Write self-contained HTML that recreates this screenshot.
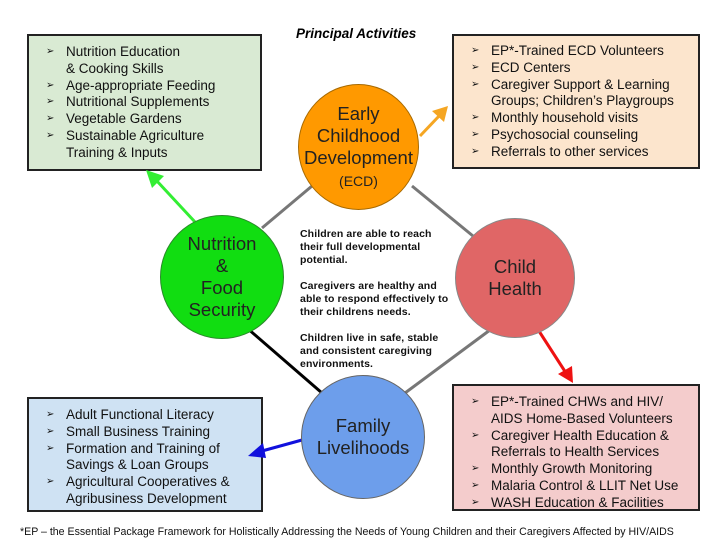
<!DOCTYPE html>
<html><head><style>
body{margin:0;width:720px;height:540px;background:#fff;position:relative;font-family:"Liberation Sans",sans-serif;overflow:hidden}
.box{position:absolute;border:2px solid #222;box-sizing:border-box;font-size:13.5px;line-height:16.8px;color:#111}
.box ul{margin:0;padding:0;list-style:none}
.box li{position:relative;padding-left:37px}
.box li.b:before{content:"➢";position:absolute;left:17px;font-size:10px;top:0}
.c{position:absolute;border-radius:50%;border:1.5px solid #666;box-sizing:border-box;display:flex;align-items:center;justify-content:center;text-align:center;font-size:18.5px;line-height:22px;color:#222}
</style></head><body>
<div style="position:absolute;left:296px;top:26px;font-size:13.5px;font-weight:bold;font-style:italic">Principal Activities</div>
<div class="box" style="left:27px;top:34px;width:235px;height:137px;background:#d9ead3;padding-top:8px">
<ul><li class="b">Nutrition Education</li><li>&amp; Cooking Skills</li><li class="b">Age-appropriate Feeding</li><li class="b">Nutritional Supplements</li><li class="b">Vegetable Gardens</li><li class="b">Sustainable Agriculture</li><li>Training &amp; Inputs</li></ul></div>
<div class="box" style="left:452px;top:34px;width:248px;height:135px;background:#fce5cd;padding-top:7px">
<ul><li class="b">EP*-Trained ECD Volunteers</li><li class="b">ECD Centers</li><li class="b">Caregiver Support &amp; Learning</li><li>Groups; Children’s Playgroups</li><li class="b">Monthly household visits</li><li class="b">Psychosocial counseling</li><li class="b">Referrals to other services</li></ul></div>
<div class="box" style="left:27px;top:397px;width:236px;height:115px;background:#cfe2f3;padding-top:8px">
<ul><li class="b">Adult Functional Literacy</li><li class="b">Small Business Training</li><li class="b">Formation and Training of</li><li>Savings &amp; Loan Groups</li><li class="b">Agricultural Cooperatives &amp;</li><li>Agribusiness Development</li></ul></div>
<div class="box" style="left:452px;top:384px;width:248px;height:127px;background:#f4cccc;padding-top:8px">
<ul><li class="b">EP*-Trained CHWs and HIV/</li><li>AIDS Home-Based Volunteers</li><li class="b">Caregiver Health Education &amp;</li><li>Referrals to Health Services</li><li class="b">Monthly Growth Monitoring</li><li class="b">Malaria Control &amp; LLIT Net Use</li><li class="b">WASH Education &amp; Facilities</li></ul></div>
<svg width="720" height="540" style="position:absolute;left:0;top:0">
<line x1="262" y1="228" x2="312" y2="186" stroke="#777" stroke-width="3"/>
<line x1="412" y1="186" x2="473" y2="236" stroke="#777" stroke-width="3"/>
<line x1="247" y1="328" x2="322" y2="393" stroke="#000" stroke-width="3"/>
<line x1="490" y1="330" x2="405" y2="393" stroke="#777" stroke-width="3"/>
<line x1="195" y1="222" x2="156" y2="180" stroke="#33ee33" stroke-width="3"/>
<polygon points="146,170 164,176 152,188" fill="#33ee33"/>
<line x1="420" y1="136" x2="440" y2="115" stroke="#f5a623" stroke-width="3"/>
<polygon points="448,106 444,122 432,111" fill="#f5a623"/>
<line x1="537" y1="328" x2="566" y2="373" stroke="#ee1111" stroke-width="3"/>
<polygon points="573,383 558,374 572,366" fill="#ee1111"/>
<line x1="302" y1="440" x2="262" y2="451" stroke="#1111dd" stroke-width="3"/>
<polygon points="248,456 263,443 266,458" fill="#1111dd"/>
</svg>
<div class="c" style="left:298px;top:84px;width:121px;height:126px;background:#ff9900;border-color:#a86a00"><div>Early<br>Childhood<br>Development<br><span style="font-size:14px;line-height:16px">(ECD)</span></div></div>
<div class="c" style="left:160px;top:215px;width:124px;height:124px;background:#11dd11;border-color:#2a8a2a"><div>Nutrition<br>&amp;<br>Food<br>Security</div></div>
<div class="c" style="left:455px;top:218px;width:120px;height:120px;background:#e06666;border-color:#888"><div>Child<br>Health</div></div>
<div class="c" style="left:301px;top:375px;width:124px;height:124px;background:#6d9eeb;border-color:#666"><div>Family<br>Livelihoods</div></div>
<div style="position:absolute;left:300px;top:228px;width:158px;font-size:10.5px;font-weight:bold;line-height:13px;color:#111;letter-spacing:0.1px">
Children are able to reach<br>their full developmental<br>potential.<br><br>Caregivers are healthy and<br>able to respond effectively to<br>their childrens needs.<br><br>Children live in safe, stable<br>and consistent caregiving<br>environments.</div>
<div style="position:absolute;left:20px;top:526px;font-size:10.6px;color:#111;white-space:nowrap">*EP – the Essential Package Framework for Holistically Addressing the Needs of Young Children and their Caregivers Affected by HIV/AIDS</div>
</body></html>
